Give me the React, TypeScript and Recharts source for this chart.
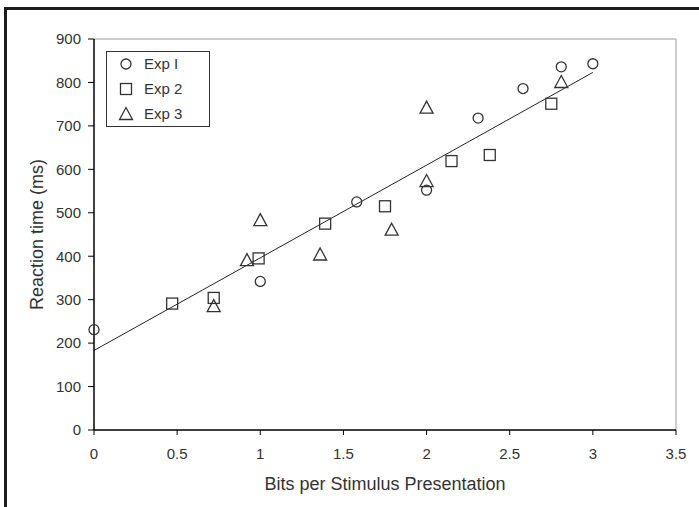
// Reaction time vs bits per stimulus — scatter of three experiments with a fitted line
import { ScatterChart, Scatter, XAxis, YAxis, ReferenceLine, Legend, Label } from 'recharts';

const exp1X = [0, 1.0, 1.58, 2.0, 2.31, 2.58, 2.81, 3.0];
const exp1Y = [231, 342, 525, 552, 718, 786, 836, 843];
const exp2X = [0.47, 0.72, 0.99, 1.39, 1.75, 2.15, 2.38, 2.75];
const exp2Y = [291, 304, 395, 475, 515, 619, 633, 751];
const exp3X = [0.72, 0.92, 1.0, 1.36, 1.79, 2.0, 2.0, 2.81];
const exp3Y = [285, 391, 483, 404, 461, 573, 742, 801];
const fitX = [0, 3];
const fitY = [183, 823];
const xTicks = [0, 0.5, 1, 1.5, 2, 2.5, 3, 3.5];
const yTicks = [0, 100, 200, 300, 400, 500, 600, 700, 800, 900];
const seriesNames = ['Exp I', 'Exp 2', 'Exp 3'];

const INK = '#333';
const FONT = '"Liberation Sans", Arial, sans-serif';

const toPoints = (xs: number[], ys: number[]) => xs.map((x, i) => ({ x, y: ys[i] }));

const exp1 = toPoints(exp1X, exp1Y);
const exp2 = toPoints(exp2X, exp2Y);
const exp3 = toPoints(exp3X, exp3Y);
const fitSegment = toPoints(fitX, fitY);

function CircleMark({ cx, cy }: { cx?: number; cy?: number }) {
  if (cx == null || cy == null) return null;
  return <circle cx={cx} cy={cy} r={5} fill="none" stroke={INK} strokeWidth={1.3} />;
}

function SquareMark({ cx, cy }: { cx?: number; cy?: number }) {
  if (cx == null || cy == null) return null;
  return <rect x={cx - 5.5} y={cy - 5.5} width={11} height={11} fill="none" stroke={INK} strokeWidth={1.3} />;
}

function TriangleMark({ cx, cy }: { cx?: number; cy?: number }) {
  if (cx == null || cy == null) return null;
  return (
    <path
      d={`M${cx},${cy - 6.5} L${cx + 6.5},${cy + 5.5} L${cx - 6.5},${cy + 5.5} Z`}
      fill="none"
      stroke={INK}
      strokeWidth={1.3}
    />
  );
}

const marks = [CircleMark, SquareMark, TriangleMark];

/** Boxed legend in the upper left of the plot */
function LegendBox() {
  return (
    <div
      style={{
        boxSizing: 'border-box',
        width: 104,
        height: 76,
        border: `1px solid ${INK}`,
        background: '#fff',
        fontFamily: FONT,
        fontSize: 15,
        color: INK,
      }}
    >
      {seriesNames.map((name, i) => {
        const Mark = marks[i];
        return (
          <div key={name} style={{ height: 25, marginTop: i === 0 ? -1 : 0, display: 'flex', alignItems: 'center' }}>
            <svg width={16} height={16} style={{ marginLeft: 11, marginRight: 10 }}>
              <Mark cx={8} cy={8} />
            </svg>
            <span>{name}</span>
          </div>
        );
      })}
    </div>
  );
}

export default function App() {
  return (
    <div
      style={{
        position: 'absolute',
        left: 0,
        top: 0,
        width: 699,
        height: 507,
        overflow: 'hidden',
        background: '#fff',
        fontFamily: FONT,
      }}
    >
      <div
        style={{
          position: 'absolute',
          left: 4,
          top: 7,
          width: 1000,
          height: 1000,
          border: '3px solid #1c1c1c',
        }}
      />
      <div style={{ position: 'absolute', left: 0, top: 0 }}>
        <ScatterChart width={699} height={507} margin={{ top: 39, right: 23, bottom: 0, left: 0 }}>
          <XAxis
            type="number"
            dataKey="x"
            domain={[0, 3.5]}
            ticks={xTicks}
            interval={0}
            height={77}
            tickSize={5}
            tickMargin={13}
            axisLine={{ stroke: '#000', strokeWidth: 1.5 }}
            tickLine={{ stroke: '#000' }}
            tick={{ fill: INK, fontSize: 15 }}
          >
            <Label value="Bits per Stimulus Presentation" position="insideBottom" offset={17} fill={INK} fontSize={18} />
          </XAxis>
          <YAxis
            type="number"
            dataKey="y"
            domain={[0, 900]}
            ticks={yTicks}
            interval={0}
            width={94}
            tickSize={6}
            tickMargin={7}
            axisLine={{ stroke: '#000', strokeWidth: 1.5 }}
            tickLine={{ stroke: '#000' }}
            tick={{ fill: INK, fontSize: 15 }}
          >
            <Label
              content={({ viewBox }: any) => {
                const cx = (viewBox?.x ?? 0) + 37;
                const cy = (viewBox?.y ?? 0) + (viewBox?.height ?? 0) / 2;
                return (
                  <text
                    x={cx}
                    y={cy}
                    transform={`rotate(-90 ${cx} ${cy})`}
                    textAnchor="middle"
                    dominantBaseline="central"
                    fill={INK}
                    fontSize={18}
                  >
                    Reaction time (ms)
                  </text>
                );
              }}
            />
          </YAxis>
          <ReferenceLine y={900} stroke="#999" strokeWidth={1} />
          <ReferenceLine x={3.5} stroke="#999" strokeWidth={1} />
          <ReferenceLine segment={fitSegment} stroke="#222" strokeWidth={1} ifOverflow="visible" />
          <Scatter name={seriesNames[0]} data={exp1} shape={<CircleMark />} isAnimationActive={false} />
          <Scatter name={seriesNames[1]} data={exp2} shape={<SquareMark />} isAnimationActive={false} />
          <Scatter name={seriesNames[2]} data={exp3} shape={<TriangleMark />} isAnimationActive={false} />
          <Legend
            layout="vertical"
            align="center"
            verticalAlign="middle"
            content={() => <LegendBox />}
            wrapperStyle={{ left: 106, top: 51, right: 'auto', bottom: 'auto', width: 104 }}
          />
        </ScatterChart>
      </div>
    </div>
  );
}
